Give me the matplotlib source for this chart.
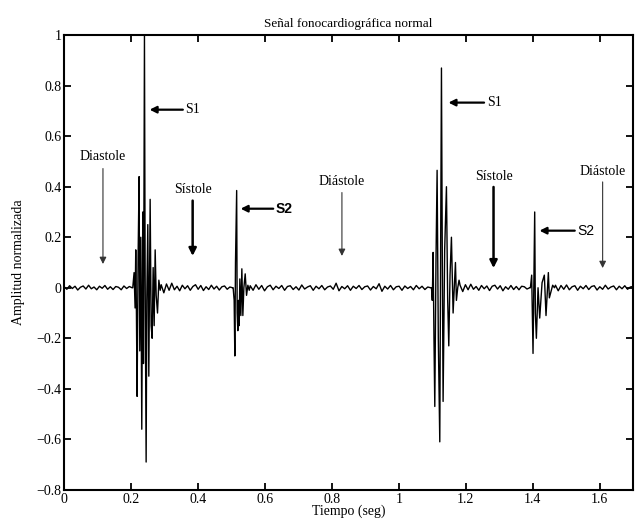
import numpy as np
import matplotlib.pyplot as plt

plt.rcParams['font.family'] = ['Liberation Serif', 'DejaVu Serif']

# ráfagas (tiempo en seg, amplitud normalizada)
t_s1a = [0.205, 0.209, 0.212, 0.214, 0.216, 0.218, 0.221, 0.224, 0.226, 0.229, 0.232, 0.235,
         0.237, 0.240, 0.242, 0.245, 0.247, 0.250, 0.253, 0.257, 0.260, 0.263, 0.266,
         0.269, 0.272, 0.275, 0.279, 0.283, 0.287]
a_s1a = [0.0, 0.06, -0.08, 0.15, -0.1, -0.43, 0.12, 0.44, -0.25, 0.2, -0.56, 0.3,
         -0.3, 1.0, 0.05, -0.69, -0.05, 0.25, -0.35, 0.35, -0.15, -0.2, 0.08,
         -0.15, 0.15, -0.03, -0.1, 0.03, -0.01]

t_s2a = [0.505, 0.508, 0.510, 0.512, 0.5155, 0.517, 0.519, 0.521, 0.523, 0.525, 0.528,
         0.531, 0.534, 0.537, 0.541, 0.545, 0.549, 0.553]
a_s2a = [0.0, -0.05, -0.27, 0.1, 0.385, -0.1, -0.17, -0.05, -0.15, 0.035, -0.11,
         0.075, -0.11, 0.0, 0.055, -0.03, 0.01, -0.01]

t_s1b = [1.0976, 1.100, 1.1025, 1.105, 1.1075, 1.111, 1.1144, 1.118, 1.1224, 1.125, 1.1274,
         1.130, 1.1323, 1.137, 1.1423, 1.146, 1.1493, 1.153, 1.1572, 1.1622, 1.1692,
         1.1721, 1.176, 1.180]
a_s1b = [0.0, -0.05, 0.14, -0.2, -0.47, 0.1, 0.465, -0.2, -0.61, 0.2, 0.87,
         0.1, -0.45, 0.15, 0.40, -0.05, -0.23, 0.05, 0.2, -0.1, 0.1,
         -0.05, 0.0, 0.03]

t_s2b = [1.3931, 1.397, 1.401, 1.406, 1.408, 1.411, 1.416, 1.421, 1.428, 1.4348,
         1.4398, 1.4468, 1.4498, 1.4597, 1.465]
a_s2b = [0.0, 0.05, -0.26, 0.30, -0.1, -0.2, 0.0, -0.12, 0.02, 0.05,
         -0.11, 0.06, -0.04, 0.01, 0.0]

# ruido de la línea base entre ráfagas
a_q1 = [0.004, -0.006, 0.008, -0.003, 0.006, -0.009, 0.002, 0.007, -0.005, 0.01, -0.004,
        0.003, -0.008, 0.006, -0.002, 0.009, -0.006, 0.004, -0.007, 0.005, 0.002,
        -0.008, 0.007, -0.003, 0.005, 0.0]
a_q2 = [0.012, -0.02, 0.015, -0.01, 0.018, -0.008, 0.006, -0.012, 0.01, -0.004, 0.008,
        -0.01, 0.005, 0.012, -0.006, 0.009, -0.011, 0.004, -0.007, 0.01, -0.005, 0.006,
        -0.009, 0.004, 0.007, -0.006, 0.003, 0.0]
a_q3 = [0.008, -0.01, 0.012, -0.006, 0.009, -0.012, 0.004, 0.01, -0.008, 0.006, -0.003,
        0.009, -0.01, 0.005, 0.008, -0.007, 0.004, -0.009, 0.011, -0.005, 0.003, 0.008,
        -0.01, 0.006, -0.004, 0.009, -0.008, 0.003, 0.007, -0.006, 0.018, -0.012, 0.005,
        -0.004, 0.008, -0.01, 0.006, -0.003, 0.009, -0.007, 0.004, 0.007, -0.009, 0.005,
        -0.004, 0.016, -0.014, 0.006, -0.005, 0.009, -0.008, 0.004, 0.006, -0.01, 0.007,
        -0.003, 0.005, -0.008, 0.009, -0.004, 0.006, -0.007, 0.003, 0.0]
a_q4 = [0.01, -0.015, 0.012, -0.008, 0.014, -0.006, 0.005, -0.01, 0.009, -0.004, 0.007,
        -0.011, 0.006, 0.01, -0.005, 0.008, -0.012, 0.004, -0.006, 0.009, -0.007, 0.005,
        -0.008, 0.006, 0.004, -0.005, 0.0]
a_q5 = [0.01, -0.012, 0.009, -0.006, 0.011, -0.008, 0.004, 0.008, -0.01, 0.006, -0.004,
        0.009, -0.007, 0.005, 0.008, -0.009, 0.004, -0.006, 0.01, -0.005, 0.003, 0.007,
        -0.008, 0.006, -0.004, 0.008, -0.006, 0.003, 0.005]

t = np.concatenate([np.linspace(0.0, 0.203, len(a_q1)), t_s1a,
                    np.linspace(0.29, 0.503, len(a_q2)), t_s2a,
                    np.linspace(0.556, 1.095, len(a_q3)), t_s1b,
                    np.linspace(1.183, 1.391, len(a_q4)), t_s2b,
                    np.linspace(1.468, 1.7, len(a_q5))])
a = np.concatenate([a_q1, a_s1a, a_q2, a_s2a, a_q3, a_s1b, a_q4, a_s2b, a_q5])

fig = plt.figure(figsize=(6.35, 5.25), dpi=100)
ax = fig.add_axes([0.101, 0.067, 0.896, 0.866])
ax.plot(t, a, color='black', lw=1.0)

ax.set_xlim(0, 1.7)
ax.set_ylim(-0.8, 1)
ax.set_xticks(np.arange(0, 1.61, 0.2))
ax.set_xticklabels(['0', '0.2', '0.4', '0.6', '0.8', '1', '1.2', '1.4', '1.6'])
ax.set_yticks(np.arange(-0.8, 1.01, 0.2))
ax.set_yticklabels(['\u22120.8', '\u22120.6', '\u22120.4', '\u22120.2', '0',
                    '0.2', '0.4', '0.6', '0.8', '1'])
ax.tick_params(direction='in', top=True, right=True, length=5, width=1.3, labelsize=10, pad=2)
for s in ax.spines.values():
    s.set_linewidth(1.5)

ax.set_title('Señal fonocardiográfica normal', fontsize=9.5, pad=6)
ax.set_xlabel('Tiempo (seg)', fontsize=10, labelpad=-1)
ax.set_ylabel('Amplitud normalizada', fontsize=10, labelpad=8)

thin = dict(arrowstyle='-|>', color='#333333', lw=0.8, mutation_scale=10)
thick = dict(arrowstyle='-|>', color='black', lw=1.8, mutation_scale=11)

# flechas verticales
for x, ytxt, y0, y1, label, props in [
        (0.116, 0.52, 0.483, 0.083, 'Diastole', thin),
        (0.384, 0.39, 0.356, 0.115, 'Sístole', thick),
        (0.830, 0.42, 0.388, 0.115, 'Diástole', thin),
        (1.283, 0.44, 0.41, 0.067, 'Sístole', thick),
        (1.609, 0.46, 0.43, 0.067, 'Diástole', thin)]:
    ax.text(x, ytxt, label, ha='center', va='center', fontsize=10)
    ax.annotate('', xy=(x, y1), xytext=(x, y0), arrowprops=props)

# flechas horizontales
for xtip, xtxt, y, label, fam, w in [
        (0.247, 0.363, 0.705, 'S1', 'Liberation Serif', 'normal'),
        (0.519, 0.633, 0.313, 'S2', 'Liberation Sans', 'bold'),
        (1.140, 1.263, 0.733, 'S1', 'Liberation Serif', 'normal'),
        (1.412, 1.534, 0.226, 'S2', 'Liberation Sans', 'normal')]:
    ax.text(xtxt, y, label, ha='left', va='center', fontsize=10, family=fam, weight=w)
    ax.annotate('', xy=(xtip, y), xytext=(xtxt, y),
                arrowprops=dict(arrowstyle='-|>', color='black', lw=1.6, mutation_scale=10))

fig.savefig('out.png', dpi=100)
